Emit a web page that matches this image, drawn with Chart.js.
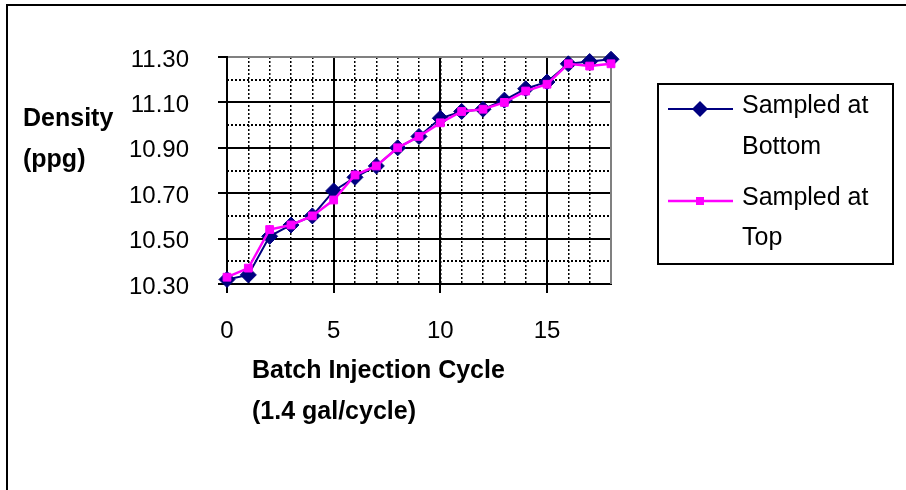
<!DOCTYPE html>
<html>
<head>
<meta charset="utf-8">
<script src="https://cdn.jsdelivr.net/npm/chart.js@4.4.1/dist/chart.umd.min.js"></script>
<style>
  html, body { margin: 0; padding: 0; background: #fff; overflow: hidden; }
  #wrap { position: relative; width: 906px; height: 490px; }
</style>
</head>
<body>
<div id="wrap"><canvas id="densityChart" width="906" height="490"></canvas></div>
<script>
// batch injection cycle number
const cycles = [0, 1, 2, 3, 4, 5, 6, 7, 8, 9, 10, 11, 12, 13, 14, 15, 16, 17, 18];

// density (ppg)
const sampledBottom = [10.32, 10.34, 10.51, 10.56, 10.60, 10.71, 10.77, 10.82, 10.90, 10.95,
                       11.03, 11.06, 11.07, 11.11, 11.16, 11.19, 11.27, 11.28, 11.29];
const sampledTop = [10.33, 10.37, 10.54, 10.56, 10.60, 10.67, 10.78, 10.82, 10.90, 10.95,
                    11.01, 11.06, 11.07, 11.10, 11.15, 11.18, 11.27, 11.26, 11.27];

const seriesNames = ['Sampled at Bottom', 'Sampled at Top'];
const legendLines = [['Sampled at', 'Bottom'], ['Sampled at', 'Top']];
const yTitle = ['Density', '(ppg)'];
const xTitle = ['Batch Injection Cycle', '(1.4 gal/cycle)'];

const FONT = '"Liberation Sans", Arial, sans-serif';
const NAVY = '#000080';
const PINK = '#ff00ff';

function toPoints(ys) {
  return cycles.map((c, i) => ({ x: c, y: ys[i] }));
}

function diamond(ctx, x, y, r) {
  ctx.beginPath();
  ctx.moveTo(x, y - r);
  ctx.lineTo(x + r, y);
  ctx.lineTo(x, y + r);
  ctx.lineTo(x - r, y);
  ctx.closePath();
}

// frame, plot border, titles and legend box
const decorations = {
  id: 'decorations',
  beforeDatasetsDraw(chart) {
    const { ctx, chartArea } = chart;
    ctx.save();
    ctx.strokeStyle = '#808080';
    ctx.lineWidth = 2;
    ctx.beginPath();
    ctx.moveTo(chartArea.left + 1, chartArea.top);
    ctx.lineTo(chartArea.right, chartArea.top);
    ctx.lineTo(chartArea.right, chartArea.bottom);
    ctx.stroke();
    ctx.restore();
  },
  afterDraw(chart) {
    const { ctx } = chart;
    ctx.save();

    // outer chart frame (runs off the page right and bottom)
    ctx.strokeStyle = '#000';
    ctx.lineWidth = 2;
    ctx.strokeRect(7, 5, 1000, 1000);

    ctx.fillStyle = '#000';
    ctx.textBaseline = 'alphabetic';
    ctx.textAlign = 'left';
    ctx.font = 'bold 25px ' + FONT;
    ctx.fillText(yTitle[0], 23, 126);
    ctx.fillText(yTitle[1], 23, 167);
    ctx.fillText(xTitle[0], 252, 378);
    ctx.fillText(xTitle[1], 252, 419);

    // legend
    ctx.strokeRect(658, 84, 235, 180);
    const ds = chart.data.datasets;
    const rows = [{ lineY: 109, text: [113, 154] }, { lineY: 201, text: [205, 245] }];
    rows.forEach((row, i) => {
      const d = ds[i];
      ctx.strokeStyle = d.borderColor;
      ctx.lineWidth = d.borderWidth;
      ctx.beginPath();
      ctx.moveTo(668, row.lineY);
      ctx.lineTo(733, row.lineY);
      ctx.stroke();
      ctx.fillStyle = d.pointBackgroundColor;
      if (d.pointStyle === 'rectRot') {
        diamond(ctx, 700, row.lineY, 8);
        ctx.fill();
      } else {
        ctx.fillRect(696, row.lineY - 4, 8, 8);
      }
      ctx.fillStyle = '#000';
      ctx.font = '25px ' + FONT;
      ctx.fillText(legendLines[i][0], 742, row.text[0]);
      ctx.fillText(legendLines[i][1], 742, row.text[1]);
    });
    ctx.restore();
  }
};

const ctx = document.getElementById('densityChart').getContext('2d');

new Chart(ctx, {
  type: 'line',
  data: {
    datasets: [
      {
        label: seriesNames[0],
        data: toPoints(sampledBottom),
        borderColor: NAVY,
        backgroundColor: NAVY,
        pointBackgroundColor: NAVY,
        pointBorderColor: NAVY,
        borderWidth: 2,
        pointStyle: 'rectRot',
        pointRadius: 8,
        pointBorderWidth: 1,
        tension: 0,
        clip: false,
        order: 1
      },
      {
        label: seriesNames[1],
        data: toPoints(sampledTop),
        borderColor: PINK,
        backgroundColor: PINK,
        pointBackgroundColor: PINK,
        pointBorderColor: PINK,
        borderWidth: 2.5,
        pointStyle: 'rect',
        pointRadius: 5.5,
        pointBorderWidth: 1,
        tension: 0,
        clip: false,
        order: 0
      }
    ]
  },
  options: {
    responsive: false,
    animation: false,
    events: [],
    layout: { padding: { left: 0, top: 57, right: 295, bottom: 0 } },
    plugins: {
      legend: { display: false },
      tooltip: { enabled: false },
      title: { display: false }
    },
    scales: {
      x: {
        type: 'linear',
        min: 0,
        max: 18,
        position: 'bottom',
        afterBuildTicks: s => { s.ticks = s.ticks.filter(t => t.value % 5 === 0); },
        afterFit: s => { s.height = 206; },
        ticks: {
          stepSize: 5,
          color: '#000',
          padding: 24,
          maxRotation: 0,
          font: { family: FONT, size: 24 }
        },
        grid: { color: '#000', lineWidth: 2, tickLength: 9, tickWidth: 2, tickColor: '#000' },
        border: { color: '#000', width: 2 }
      },
      xMinor: {
        type: 'linear',
        min: 0,
        max: 18,
        position: 'bottom',
        afterFit: s => { s.height = 0; },
        ticks: { display: false, stepSize: 1 },
        grid: { color: '#000', lineWidth: 1.5, drawTicks: false, z: -2 },
        border: { display: false, dash: [2, 2] }
      },
      y: {
        type: 'linear',
        min: 10.3,
        max: 11.3,
        position: 'left',
        afterFit: s => { s.width = 227; },
        ticks: {
          stepSize: 0.2,
          color: '#000',
          padding: 29,
          labelOffset: 3,
          font: { family: FONT, size: 24 },
          callback: v => Number(v).toFixed(2)
        },
        grid: { color: '#000', lineWidth: 2, tickLength: 9, tickWidth: 2, tickColor: '#000' },
        border: { color: '#000', width: 2 }
      },
      yMinor: {
        type: 'linear',
        min: 10.3,
        max: 11.3,
        position: 'left',
        afterFit: s => { s.width = 0; },
        ticks: { display: false, stepSize: 0.1 },
        grid: { color: '#000', lineWidth: 2, drawTicks: false, z: -2 },
        border: { display: false, dash: [2, 2] }
      }
    }
  },
  plugins: [decorations]
});
</script>
</body>
</html>
